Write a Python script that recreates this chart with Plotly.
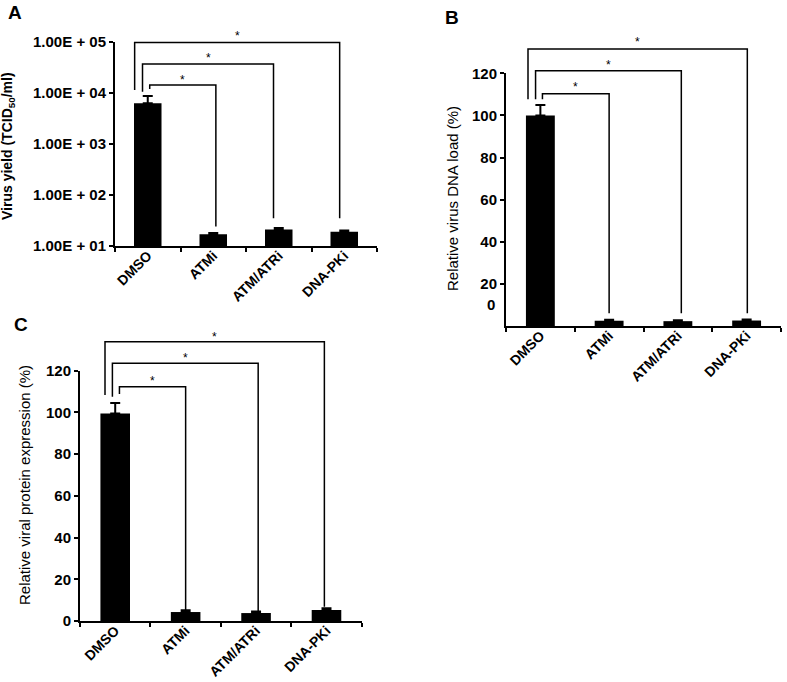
import plotly.graph_objects as go

# ---------------- data ----------------
categories = ["DMSO", "ATMi", "ATM/ATRi", "DNA-PKi"]

yield_vals = [6300, 17, 21, 19]          # panel A, TCID50/ml
yield_err = [2400, 1.0, 1.5, 1.2]

dna_vals = [100, 2.5, 2.3, 2.6]          # panel B, %
dna_err = [5, 0.5, 0.4, 0.5]

protein_vals = [99.5, 4.3, 3.8, 5.3]     # panel C, %
protein_err = [5, 0.8, 0.7, 0.8]

logA_tickvals = [10, 100, 1000, 10000, 100000]
logA_ticktext = ["1.00E + 01", "1.00E + 02", "1.00E + 03", "1.00E + 04", "1.00E + 05"]
lin_tickvals = [20, 40, 60, 80, 100, 120]
lin_ticktext = ["20", "40", "60", "80", "100", "120"]
lin_tickvals_C = [0, 20, 40, 60, 80, 100, 120]
lin_ticktext_C = ["0", "20", "40", "60", "80", "100", "120"]

# ---------------- layout helpers ----------------
W, H = 787, 682
FONT = "Arial, Liberation Sans, sans-serif"
n = len(categories)
cat_pos = list(range(n))
boundaries = [i - 0.5 for i in range(n + 1)]


def px_x(p):
    return p / W


def px_y(p):
    return 1 - p / H


fig = go.Figure()

panels = [
    # (suffix, values, errors, x-domain px, y-domain px (top,bottom))
    ("", yield_vals, yield_err, (115, 377), (42, 246)),
    ("2", dna_vals, dna_err, (506, 781), (73.3, 326)),
    ("3", protein_vals, protein_err, (80, 361.7), (370.7, 621)),
]

for suf, vals, errs, xd, yd in panels:
    fig.add_trace(go.Bar(
        x=cat_pos, y=vals,
        xaxis="x" + suf, yaxis="y" + suf,
        width=0.42,
        marker=dict(color="black", line=dict(color="black", width=0)),
        error_y=dict(type="data", symmetric=False, array=errs,
                     arrayminus=[0] * len(errs),
                     color="black", thickness=2, width=5),
        showlegend=False,
        hoverinfo="skip",
    ))

axis_common = dict(
    showgrid=False, zeroline=False, showline=True, linecolor="black",
    linewidth=2, ticks="outside", ticklen=4, tickwidth=2, tickcolor="black",
    automargin=False,
    tickfont=dict(family=FONT, size=15, color="black", weight="bold"),
)

layout = dict(
    template="none",
    width=W, height=H,
    margin=dict(l=0, r=0, t=0, b=0, pad=0),
    plot_bgcolor="white", paper_bgcolor="white",
    bargap=0.5,
)

for suf, vals, errs, xd, yd in panels:
    xk = "xaxis" + suf
    yk = "yaxis" + suf
    layout[xk] = dict(
        axis_common,
        type="linear", range=[-0.5, n - 0.5],
        tickmode="array", tickvals=cat_pos, ticktext=categories,
        ticks="",
        ticklabelstandoff=-6,
        minor=dict(tickmode="array", tickvals=boundaries, ticks="outside",
                   ticklen=4, tickwidth=2, tickcolor="black", showgrid=False),
        domain=[px_x(xd[0]), px_x(xd[1])],
        anchor="y" + suf,
        tickangle=-45,
        tickfont=dict(family=FONT, size=14, color="black", weight="bold"),
    )
    layout[yk] = dict(
        axis_common,
        domain=[px_y(yd[1]), px_y(yd[0])],
        anchor="x" + suf,
    )

layout["yaxis"].update(type="log", range=[1, 5], tickvals=logA_tickvals, ticktext=logA_ticktext)
layout["yaxis2"].update(range=[0, 120], tickvals=lin_tickvals, ticktext=lin_ticktext)
layout["yaxis3"].update(range=[0, 120], tickvals=lin_tickvals_C, ticktext=lin_ticktext_C)

fig.update_layout(**layout)

# ---------------- significance brackets ----------------
# (right category index, left offset, right offset, top, left bottom, right bottom, star y)  [domain units]
brackets = {
    "": [
        (1, 0.03, 0.04, 0.789, 0.77, 0.095, 0.833),
        (2, -0.08, -0.08, 0.892, 0.756, 0.136, 0.94),
        (3, -0.20, -0.07, 0.997, 0.765, 0.136, 1.047),
    ],
    "2": [
        (1, 0.03, 0.0, 0.919, 0.897, 0.05, 0.96),
        (2, -0.07, 0.05, 1.010, 0.897, 0.05, 1.049),
        (3, -0.18, 0.01, 1.096, 0.897, 0.05, 1.14),
    ],
    "3": [
        (1, 0.06, 0.0, 0.936, 0.907, 0.044, 0.976),
        (2, -0.04, 0.03, 1.03, 0.896, 0.037, 1.067),
        (3, -0.145, -0.03, 1.116, 0.903, 0.057, 1.152),
    ],
}

shapes = []
annotations = []
for suf, lst in brackets.items():
    xr = ("x" + suf) + " domain"
    yr = ("y" + suf) + " domain"
    for ci, lo, ro, top, lb, rb, sy in lst:
        x1 = (0 + 0.5 + lo) / n
        x2 = (ci + 0.5 + ro) / n
        path = f"M {x1},{lb} L {x1},{top} L {x2},{top} L {x2},{rb}"
        shapes.append(dict(type="path", xref=xr, yref=yr, path=path,
                           line=dict(color="black", width=1.5)))
        annotations.append(dict(xref=xr, yref=yr, x=(x1 + x2) / 2, y=sy,
                                text="*", showarrow=False,
                                xanchor="center", yanchor="middle",
                                yshift=-4,
                                font=dict(family=FONT, size=12, color="black")))

# "0" label in panel B (placed above the axis as in the original)
annotations.append(dict(xref="paper", yref="y2 domain", x=px_x(497), y=10 / 120,
                        text="0", showarrow=False, xanchor="right", yanchor="middle",
                        font=dict(family=FONT, size=15, color="black", weight="bold")))

# axis titles
annotations += [
    dict(xref="paper", yref="paper", x=px_x(8), y=px_y(146), textangle=-90,
         text="Virus yield (TCID<sub>50</sub>/ml)", showarrow=False,
         xanchor="center", yanchor="middle",
         font=dict(family=FONT, size=14, color="black", weight="bold")),
    dict(xref="paper", yref="paper", x=px_x(453), y=px_y(199), textangle=-90,
         text="Relative virus DNA load (%)", showarrow=False,
         xanchor="center", yanchor="middle",
         font=dict(family=FONT, size=15, color="black")),
    dict(xref="paper", yref="paper", x=px_x(24), y=px_y(485), textangle=-90,
         text="Relative viral protein expression (%)", showarrow=False,
         xanchor="center", yanchor="middle",
         font=dict(family=FONT, size=15, color="black")),
]

# panel letters
for letter, xx, yy in [("A", 15, 13), ("B", 452, 18), ("C", 21, 324)]:
    annotations.append(dict(xref="paper", yref="paper", x=px_x(xx), y=px_y(yy),
                            text=letter, showarrow=False,
                            xanchor="center", yanchor="middle",
                            font=dict(family=FONT, size=19, color="black", weight="bold")))

fig.update_layout(shapes=shapes, annotations=annotations)

fig.write_html(
    "out.html",
    config={"displayModeBar": False},
    post_script="document.body.style.margin='0px';document.body.style.overflow='hidden';",
)
